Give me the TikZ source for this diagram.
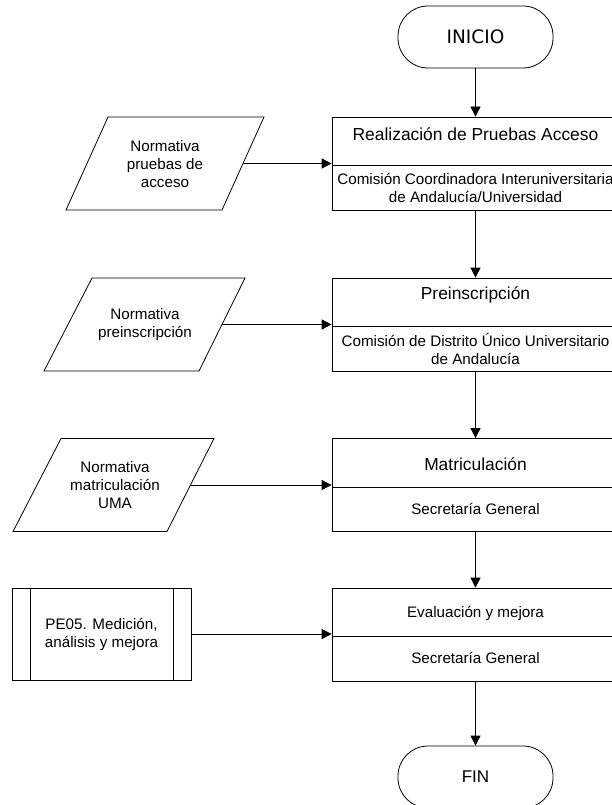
\documentclass[tikz,border=0pt]{standalone}
\usepackage{fontspec}
\setmainfont{Liberation Sans}
\newfontfamily\dejavu{DejaVu Sans}
\usetikzlibrary{arrows.meta}
\begin{document}
\begin{tikzpicture}[x=1pt,y=-1pt,
  line width=0.8pt,
  arr/.style={-{Triangle[length=10pt,width=10pt]}},
  procbox/.style={draw, minimum width=287pt, minimum height=93pt, inner sep=0pt},
  termbox/.style={draw, rounded corners=30pt, minimum width=155pt, minimum height=62pt, inner sep=0pt},
  ttl/.style={font=\fontsize{17.4}{20}\selectfont, inner sep=0pt},
  subtxt/.style={font=\fontsize{15.2}{18}\selectfont, align=center, inner sep=0pt},
]
\useasboundingbox (0,0) rectangle (612,805);
\clip (0,0) rectangle (612,805);

% terminals
\node[termbox, font=\dejavu\fontsize{18.5}{20}\selectfont] (ini) at (475.5,37) {INICIO};
\node[termbox, font=\fontsize{17}{20}\selectfont] (fin) at (475.5,777) {FIN};

% process boxes
\node[procbox] (b1) at (475.5,163.5) {};
\node[ttl] (t1) at (475.5,134) {Realización de Pruebas Acceso};
\draw ([yshift=-1.5pt]b1.west) -- ([yshift=-1.5pt]b1.east);
\node[subtxt] (s1) at (475.5,187.5) {Comisión Coordinadora Interuniversitaria\\de Andalucía/Universidad};

\node[procbox] (b2) at (475.5,324.5) {};
\node[ttl] (t2) at (475.5,295) {Preinscripción};
\draw ([yshift=-1.5pt]b2.west) -- ([yshift=-1.5pt]b2.east);
\node[subtxt] (s2) at (475.5,348.5) {Comisión de Distrito Único Universitario\\de Andalucía};

\node[procbox] (b3) at (475.5,485) {};
\node[ttl] (t3) at (475.5,464) {Matriculación};
\draw ([yshift=-2pt]b3.west) -- ([yshift=-2pt]b3.east);
\node[subtxt] (s3) at (475.5,509) {Secretaría General};

\node[procbox] (b4) at (475.5,634.5) {};
\node[subtxt] (t4) at (475.5,613) {Evaluación y mejora};
\draw ([yshift=-1.5pt]b4.west) -- ([yshift=-1.5pt]b4.east);
\node[subtxt] (s4) at (475.5,658) {Secretaría General};

% inputs (parallelograms)
\draw (66,210) -- (108,117) -- (264,117) -- (222,210) -- cycle;
\node[subtxt] (p1) at (165,164) {Normativa\\pruebas de\\acceso};
\coordinate (p1e) at (243,163.5);

\draw (44,371) -- (92,278) -- (245,278) -- (199,371) -- cycle;
\node[subtxt] (p2) at (145,324.5) {Normativa\\preinscripción};
\coordinate (p2e) at (222,324.5);

\draw (13,531.5) -- (61,438.5) -- (214,438.5) -- (167,531.5) -- cycle;
\node[subtxt] (p3) at (115,485) {Normativa\\matriculación\\UMA};
\coordinate (p3e) at (190.5,485);

% predefined process
\node[draw, minimum width=179pt, minimum height=92pt, subtxt] (pe) at (101.5,634) {PE05. Medición,\\análisis y mejora};
\draw ([xshift=19pt]pe.north west) -- ([xshift=19pt]pe.south west);
\draw ([xshift=-18pt]pe.north east) -- ([xshift=-18pt]pe.south east);

% connectors
\draw[arr] (ini) -- (b1);
\draw[arr] (b1) -- (b2);
\draw[arr] (b2) -- (b3);
\draw[arr] (b3) -- (b4);
\draw[arr] (b4) -- (fin);
\draw[arr] (p1e) -- (b1.west);
\draw[arr] (p2e) -- (b2.west);
\draw[arr] (p3e) -- (b3.west);
\draw[arr] (pe.east) -- (pe.east -| b4.west);
\end{tikzpicture}
\end{document}
